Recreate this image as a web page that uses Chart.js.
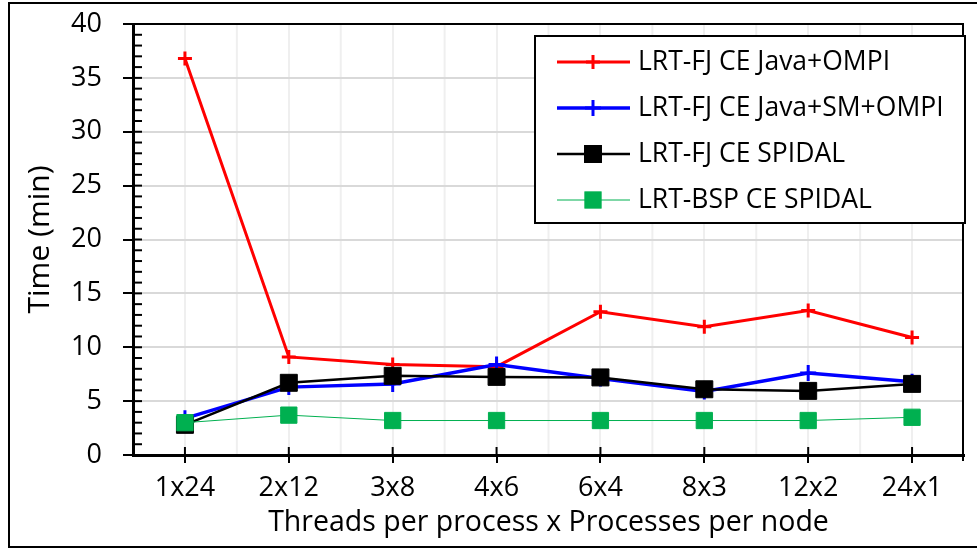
<!DOCTYPE html>
<html>
<head>
<meta charset="utf-8">
<script src="https://cdn.jsdelivr.net/npm/chart.js@4.4.1/dist/chart.umd.min.js"></script>
<style>
html, body { margin: 0; padding: 0; background: #fff; }
</style>
</head>
<body>
<canvas id="graphique" width="977" height="550"></canvas>
<script>
// Catégories (threads par process x process par noeud)
const categories = ['1x24', '2x12', '3x8', '4x6', '6x4', '8x3', '12x2', '24x1'];

// Temps en minutes
const javaOmpi = [36.8, 9.1, 8.4, 8.2, 13.3, 11.9, 13.4, 10.9];
const javaSmOmpi = [3.4, 6.3, 6.6, 8.4, 7.1, 5.9, 7.6, 6.8];
const fjSpidal = [2.8, 6.7, 7.35, 7.25, 7.2, 6.1, 5.95, 6.6];
const bspSpidal = [3.0, 3.7, 3.2, 3.2, 3.2, 3.2, 3.2, 3.5];

// Graduations de l'axe Y
const yTicks = [0, 5, 10, 15, 20, 25, 30, 35, 40];
const yMinorStep = 1;

const police = "'Open Sans', sans-serif";
Chart.defaults.font.family = police;
Chart.defaults.color = '#000';

function trait(ctx, x1, y1, x2, y2) {
    ctx.beginPath();
    ctx.moveTo(x1, y1);
    ctx.lineTo(x2, y2);
    ctx.stroke();
}

function marqueur(ctx, style, x, y, r, couleur, largeur) {
    ctx.strokeStyle = couleur;
    ctx.fillStyle = couleur;
    ctx.lineWidth = largeur;
    if (style === 'cross') {
        trait(ctx, x - r, y, x + r, y);
        trait(ctx, x, y - r, x, y + r);
    } else {
        const s = r * Math.SQRT1_2;
        ctx.fillRect(x - s, y - s, 2 * s, 2 * s);
        ctx.strokeRect(x - s, y - s, 2 * s, 2 * s);
    }
}

// Décor : grille secondaire, petites graduations, cadres, légende
const decor = {
    id: 'decor',
    beforeDraw(chart) {
        const { ctx, chartArea: a, scales: { x } } = chart;
        ctx.save();
        ctx.strokeStyle = '#efefef';
        ctx.lineWidth = 2;
        for (let i = 0; i < categories.length - 1; i++) {
            const px = (x.getPixelForValue(i) + x.getPixelForValue(i + 1)) / 2;
            trait(ctx, px, a.top, px, a.bottom);
        }
        ctx.restore();
    },
    beforeDatasetsDraw(chart) {
        const { ctx, chartArea: a, scales: { x, y } } = chart;
        ctx.save();
        ctx.strokeStyle = '#000';
        ctx.lineWidth = 2;
        for (let v = yTicks[0]; v <= yTicks[yTicks.length - 1]; v += yMinorStep) {
            const py = y.getPixelForValue(v);
            trait(ctx, a.left, py, a.left + 9, py);
        }
        categories.forEach((c, i) => {
            const px = x.getPixelForValue(i);
            trait(ctx, px, a.bottom - 8, px, a.bottom);
        });
        // bord droit de la zone de tracé
        trait(ctx, a.right - 1, a.top, a.right - 1, a.bottom + 6);
        ctx.restore();
    },
    afterDraw(chart) {
        const { ctx } = chart;
        ctx.save();
        // cadre extérieur (côté droit coupé)
        ctx.strokeStyle = '#000';
        ctx.lineWidth = 2;
        ctx.beginPath();
        ctx.moveTo(977, 3);
        ctx.lineTo(9, 3);
        ctx.lineTo(9, 547);
        ctx.lineTo(977, 547);
        ctx.stroke();

        // légende
        const lx = 535, ly = 36, lw = 430, lh = 187;
        ctx.fillStyle = '#fff';
        ctx.fillRect(lx, ly, lw, lh);
        ctx.strokeRect(lx, ly, lw, lh);
        ctx.font = "26.5px " + police;
        ctx.textBaseline = 'middle';
        chart.data.datasets.forEach((ds, i) => {
            const yy = ly + 26 + i * 46;
            ctx.strokeStyle = ds.borderColor;
            ctx.lineWidth = ds.borderWidth;
            trait(ctx, 557, yy, 630, yy);
            marqueur(ctx, ds.pointStyle, 593, yy, ds.pointRadius, ds.pointBackgroundColor, ds.pointBorderWidth);
            ctx.fillStyle = '#000';
            ctx.fillText(ds.label, 638, yy);
        });
        ctx.restore();
    }
};

const graph = document.getElementById('graphique').getContext('2d');
new Chart(graph, {
    type: 'line',
    data: {
        labels: categories,
        datasets: [{
            label: 'LRT-FJ CE Java+OMPI',
            data: javaOmpi,
            borderColor: '#ff0000',
            borderWidth: 3,
            pointStyle: 'cross',
            pointRadius: 7,
            pointBorderWidth: 3,
            pointBorderColor: '#ff0000',
            pointBackgroundColor: '#ff0000',
            order: 3
        }, {
            label: 'LRT-FJ CE Java+SM+OMPI',
            data: javaSmOmpi,
            borderColor: '#0000ff',
            borderWidth: 3.5,
            pointStyle: 'cross',
            pointRadius: 8,
            pointBorderWidth: 3,
            pointBorderColor: '#0000ff',
            pointBackgroundColor: '#0000ff',
            order: 2
        }, {
            label: 'LRT-FJ CE SPIDAL',
            data: fjSpidal,
            borderColor: '#000000',
            borderWidth: 2.5,
            pointStyle: 'rect',
            pointRadius: 12,
            pointBorderWidth: 1,
            pointBorderColor: '#000000',
            pointBackgroundColor: '#000000',
            order: 1
        }, {
            label: 'LRT-BSP CE SPIDAL',
            data: bspSpidal,
            borderColor: '#00b050',
            borderWidth: 1,
            pointStyle: 'rect',
            pointRadius: 11.5,
            pointBorderWidth: 1,
            pointBorderColor: '#00b050',
            pointBackgroundColor: '#00b050',
            order: 0
        }]
    },
    options: {
        responsive: false,
        animation: false,
        devicePixelRatio: 1,
        layout: { padding: { left: 0, right: 2, top: 24, bottom: 0 } },
        plugins: {
            legend: { display: false },
            tooltip: { enabled: false }
        },
        scales: {
            x: {
                type: 'category',
                offset: true,
                ticks: { font: { size: 27 }, padding: 9, color: '#000' },
                grid: { color: '#efefef', lineWidth: 2, tickLength: 8, tickColor: '#000', tickWidth: 2 },
                border: { color: '#000', width: 3 },
                title: {
                    display: true,
                    text: 'Threads per process x Processes per node',
                    font: { size: 28.5 },
                    color: '#000',
                    padding: { top: 0, bottom: 10 }
                },
                afterFit(s) {
                    s.height = 95;
                    s.paddingLeft = 0;
                    s.paddingRight = 0;
                }
            },
            y: {
                min: yTicks[0],
                max: yTicks[yTicks.length - 1],
                afterBuildTicks(s) { s.ticks = yTicks.map(v => ({ value: v })); },
                ticks: { font: { size: 27 }, padding: 21, color: '#000' },
                grid: {
                    color: c => (c.tick && c.tick.value === yTicks[yTicks.length - 1]) ? '#000' : '#d9d9d9',
                    lineWidth: 2,
                    tickLength: 10,
                    tickColor: '#000',
                    tickWidth: 2
                },
                border: { color: '#000', width: 3 },
                title: {
                    display: true,
                    text: 'Time (min)',
                    font: { size: 30 },
                    color: '#000',
                    padding: { top: 22, bottom: 0 }
                },
                afterFit(s) {
                    s.width = 133;
                    s.paddingTop = 0;
                    s.paddingBottom = 0;
                }
            }
        }
    },
    plugins: [decor]
});
</script>
</body>
</html>
